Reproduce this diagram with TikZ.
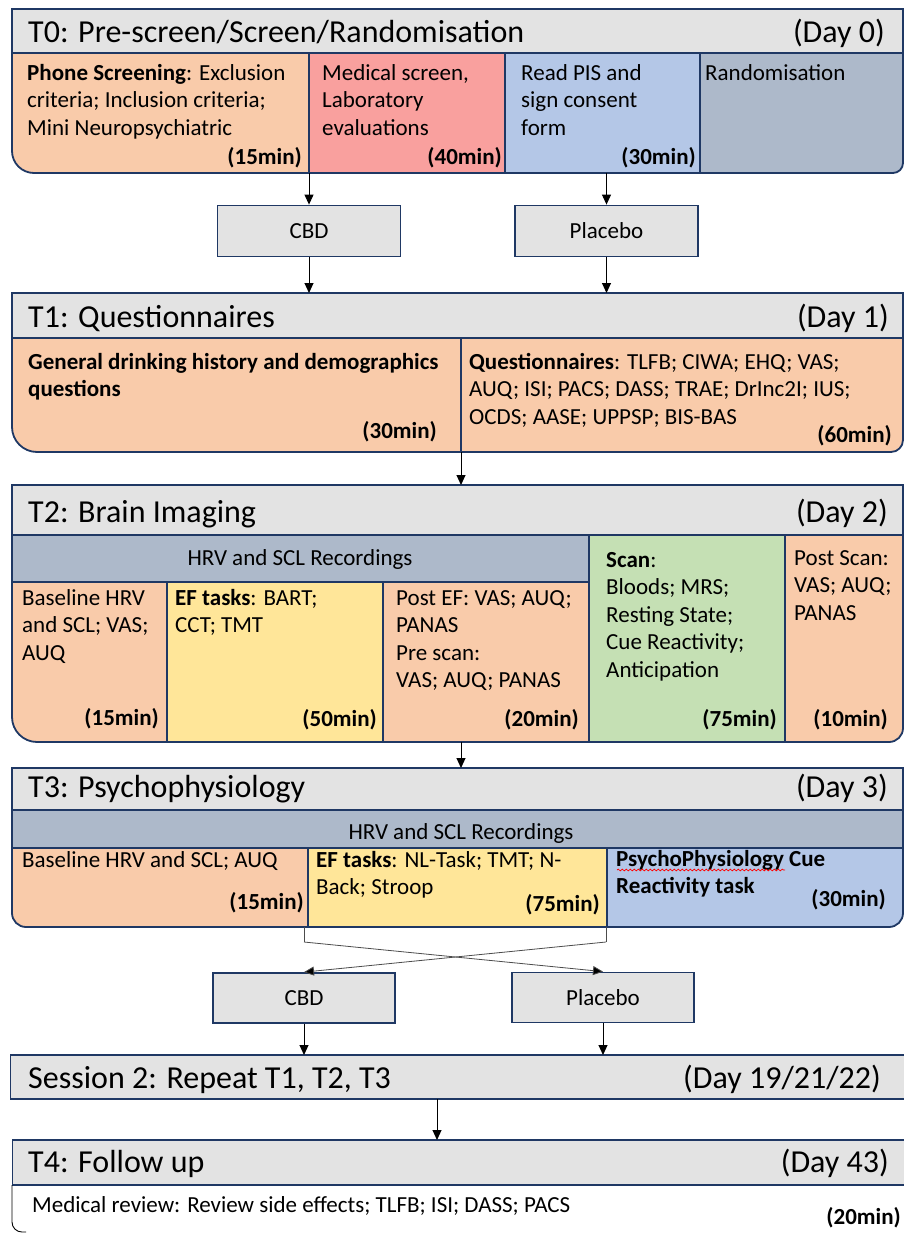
\documentclass[tikz,border=0pt]{standalone}
\usepackage{fontspec}
\setmainfont{Carlito}
\usetikzlibrary{arrows.meta,decorations.pathmorphing}
\definecolor{navy}{HTML}{1F3864}
\definecolor{hdr}{HTML}{E3E3E3}
\definecolor{peach}{HTML}{F9CBAA}
\definecolor{pinkred}{HTML}{F9A09E}
\definecolor{ltblue}{HTML}{B4C7E7}
\definecolor{slate}{HTML}{ADB9CA}
\definecolor{gold}{HTML}{FFE699}
\definecolor{sage}{HTML}{C5E0B4}
\newcommand{\bodyfont}{\fontsize{23}{27.5}\selectfont}
\newcommand{\hdrfont}{\fontsize{32}{38}\selectfont}
\begin{document}
\begin{tikzpicture}[x=1pt,y=-1pt,
  blk/.style={draw=navy,line width=1.8pt},
  cellnode/.style={anchor=north west,inner sep=0pt,outer sep=0pt,draw=none},
  divider/.style={draw=navy,line width=1.4pt},
  hline/.style={draw=navy,line width=1.8pt},
  txt/.style={anchor=north west,inner sep=0pt,align=left,font=\bodyfont},
  single/.style={anchor=base west,inner sep=0pt,font=\bodyfont},
  centred/.style={anchor=base,inner sep=0pt,font=\bodyfont},
  dur/.style={anchor=base east,inner sep=0pt,font=\bodyfont\bfseries},
  title/.style={anchor=base west,inner sep=0pt,font=\hdrfont},
  day/.style={anchor=base east,inner sep=0pt,font=\hdrfont},
  drug/.style={draw=navy,line width=1.8pt,fill=hdr,minimum width=183pt,minimum height=51pt,inner sep=0pt,font=\bodyfont},
  arr/.style={draw=black,line width=1pt,-{Triangle[width=9pt,length=10pt]}},
  xarr/.style={draw=black!70,line width=0.8pt,-{Triangle[width=9pt,length=10pt,fill=black]}},
  xline/.style={draw=black!70,line width=0.8pt},
]
\useasboundingbox (0,0) rectangle (904,1233);

% ---------------- T0 ----------------
\begin{scope}
\clip (12,9) -- (903,9) -- (903,163) arc[start angle=0,end angle=90,radius=10] -- (34,173) arc[start angle=90,end angle=180,radius=22] -- cycle;
\node[cellnode,fill=hdr,minimum width=891pt,minimum height=44pt] (t0h) at (12,9) {};
\node[cellnode,fill=peach,minimum width=297pt,minimum height=120pt] (t0a) at (12,53) {};
\node[cellnode,fill=pinkred,minimum width=196pt,minimum height=120pt] (t0b) at (309,53) {};
\node[cellnode,fill=ltblue,minimum width=195pt,minimum height=120pt] (t0c) at (505,53) {};
\node[cellnode,fill=slate,minimum width=203pt,minimum height=120pt] (t0d) at (700,53) {};
\end{scope}
\draw[blk] (12,9) -- (903,9) -- (903,163) arc[start angle=0,end angle=90,radius=10] -- (34,173) arc[start angle=90,end angle=180,radius=22] -- cycle;
\draw[hline] (t0h.south west) -- (t0h.south east);
\draw[divider] (t0a.north east) -- (t0a.south east);
\draw[divider] (t0b.north east) -- (t0b.south east);
\draw[divider] (t0c.north east) -- (t0c.south east);
\node[title] (t0title) at (28,43) {T0: Pre-screen/Screen/Randomisation};
\node[day] (t0day) at (885,43) {(Day 0)};
\node[txt] (t0atx) at (27,60.75) {\strut\textbf{Phone Screening}: Exclusion\\criteria; Inclusion criteria;\\Mini Neuropsychiatric};
\node[dur] (t0adur) at (302,165) {(15min)};
\node[txt] (t0btx) at (322,60.75) {\strut Medical screen,\\Laboratory\\evaluations};
\node[dur] (t0bdur) at (502,165) {(40min)};
\node[txt] (t0ctx) at (521,60.75) {\strut Read PIS and\\sign consent\\form};
\node[dur] (t0cdur) at (696,165) {(30min)};
\node[txt] (t0dtx) at (705,60.75) {\strut Randomisation};

% ---------------- drugs 1 ----------------
\node[drug] (cbd1) at (309,231) {CBD};
\node[drug] (pl1) at (606.5,231) {Placebo};

% ---------------- T1 ----------------
\begin{scope}
\clip (12,293) -- (903,293) -- (903,440) arc[start angle=0,end angle=90,radius=12] -- (37,452) arc[start angle=90,end angle=180,radius=25] -- cycle;
\node[cellnode,fill=hdr,minimum width=891pt,minimum height=45pt] (t1h) at (12,293) {};
\node[cellnode,fill=peach,minimum width=449pt,minimum height=114pt] (t1a) at (12,338) {};
\node[cellnode,fill=peach,minimum width=442pt,minimum height=114pt] (t1b) at (461,338) {};
\end{scope}
\draw[blk] (12,293) -- (903,293) -- (903,440) arc[start angle=0,end angle=90,radius=12] -- (37,452) arc[start angle=90,end angle=180,radius=25] -- cycle;
\draw[hline] (t1h.south west) -- (t1h.south east);
\draw[divider] (t1a.north east) -- (t1a.south east);
\node[title] (t1title) at (28,327) {T1: Questionnaires};
\node[day] (t1day) at (889,327) {(Day 1)};
\node[txt] (t1atx) at (28,349.75) {\strut\textbf{General drinking history and demographics}\\\textbf{questions}};
\node[dur] (t1adur) at (437,438) {(30min)};
\node[txt] (t1btx) at (469,349.75) {\strut\textbf{Questionnaires}: TLFB; CIWA; EHQ; VAS;\\AUQ; ISI; PACS; DASS; TRAE; DrInc2I; IUS;\\OCDS; AASE; UPPSP; BIS-BAS};
\node[dur] (t1bdur) at (892,442) {(60min)};

% ---------------- T2 ----------------
\begin{scope}
\clip (12,485) -- (903,485) -- (903,728) arc[start angle=0,end angle=90,radius=14] -- (37,742) arc[start angle=90,end angle=180,radius=25] -- cycle;
\node[cellnode,fill=hdr,minimum width=891pt,minimum height=50pt] (t2h) at (12,485) {};
\node[cellnode,fill=slate,minimum width=577pt,minimum height=47pt] (t2band) at (12,535) {};
\node[cellnode,fill=peach,minimum width=155pt,minimum height=160pt] (t2a) at (12,582) {};
\node[cellnode,fill=gold,minimum width=216pt,minimum height=160pt] (t2b) at (167,582) {};
\node[cellnode,fill=peach,minimum width=206pt,minimum height=160pt] (t2c) at (383,582) {};
\node[cellnode,fill=sage,minimum width=196pt,minimum height=207pt] (t2d) at (589,535) {};
\node[cellnode,fill=peach,minimum width=118pt,minimum height=207pt] (t2e) at (785,535) {};
\end{scope}
\draw[blk] (12,485) -- (903,485) -- (903,728) arc[start angle=0,end angle=90,radius=14] -- (37,742) arc[start angle=90,end angle=180,radius=25] -- cycle;
\draw[hline] (t2h.south west) -- (t2h.south east);
\draw[divider] (t2band.south west) -- (t2band.south east);
\draw[divider] (t2a.north east) -- (t2a.south east);
\draw[divider] (t2b.north east) -- (t2b.south east);
\draw[divider] (t2d.north west) -- (t2d.south west);
\draw[divider] (t2d.north east) -- (t2d.south east);
\node[title] (t2title) at (28,522) {T2: Brain Imaging};
\node[day] (t2day) at (888,522) {(Day 2)};
\node[centred] (t2bandtx) at (300,565) {HRV and SCL Recordings};
\node[txt] (t2atx) at (22,585.75) {\strut Baseline HRV\\and SCL; VAS;\\AUQ};
\node[dur] (t2adur) at (159,725) {(15min)};
\node[txt] (t2btx) at (175,585.75) {\strut\textbf{EF tasks}: BART;\\CCT; TMT};
\node[dur] (t2bdur) at (377,726) {(50min)};
\node[txt] (t2ctx) at (396,585.75) {\strut Post EF: VAS; AUQ;\\PANAS\\Pre scan:\\VAS; AUQ; PANAS};
\node[dur] (t2cdur) at (579,726) {(20min)};
\node[txt] (t2dtx) at (606,547.75) {\strut\textbf{Scan}:\\Bloods; MRS;\\Resting State;\\Cue Reactivity;\\Anticipation};
\node[dur] (t2ddur) at (777,726) {(75min)};
\node[txt] (t2etx) at (794,545.75) {\strut Post Scan:\\VAS; AUQ;\\PANAS};
\node[dur] (t2edur) at (888,726) {(10min)};

% ---------------- T3 ----------------
\begin{scope}
\clip (12,768) -- (903,768) -- (903,913) arc[start angle=0,end angle=90,radius=14] -- (26,927) arc[start angle=90,end angle=180,radius=14] -- cycle;
\node[cellnode,fill=hdr,minimum width=891pt,minimum height=42pt] (t3h) at (12,768) {};
\node[cellnode,fill=slate,minimum width=891pt,minimum height=38pt] (t3band) at (12,810) {};
\node[cellnode,fill=peach,minimum width=296pt,minimum height=79pt] (t3a) at (12,848) {};
\node[cellnode,fill=gold,minimum width=299pt,minimum height=79pt] (t3b) at (308,848) {};
\node[cellnode,fill=ltblue,minimum width=296pt,minimum height=79pt] (t3c) at (607,848) {};
\end{scope}
\draw[blk] (12,768) -- (903,768) -- (903,913) arc[start angle=0,end angle=90,radius=14] -- (26,927) arc[start angle=90,end angle=180,radius=14] -- cycle;
\draw[hline] (t3h.south west) -- (t3h.south east);
\draw[divider] (t3band.south west) -- (t3band.south east);
\draw[divider] (t3a.north east) -- (t3a.south east);
\draw[divider] (t3b.north east) -- (t3b.south east);
\node[title] (t3title) at (28,797) {T3: Psychophysiology};
\node[day] (t3day) at (888,797) {(Day 3)};
\node[centred] (t3bandtx) at (461,839) {HRV and SCL Recordings};
\node[txt] (t3atx) at (22,847.75) {\strut Baseline HRV and SCL; AUQ};
\node[dur] (t3adur) at (304,909) {(15min)};
\node[txt] (t3btx) at (316,847.75) {\strut\textbf{EF tasks}: NL-Task; TMT; N-\\Back; Stroop};
\node[dur] (t3bdur) at (600,911) {(75min)};
\node[txt] (t3ctx) at (616,846.75) {\strut\textbf{PsychoPhysiology Cue}\\\textbf{Reactivity task}};
\node[dur] (t3cdur) at (886,906) {(30min)};
\draw[red,line width=0.7pt,decorate,decoration={snake,amplitude=0.9pt,segment length=4pt}] (617,870) -- (785,870);

% ---------------- drugs 2 ----------------
\node[drug,minimum width=182pt,minimum height=50pt] (cbd2) at (304,998) {CBD};
\node[drug,minimum width=182pt,minimum height=50pt] (pl2) at (603,997.5) {Placebo};

% ---------------- Session 2 ----------------
\node[cellnode,fill=hdr,minimum width=896pt,minimum height=44pt] (s2) at (10,1055) {};
\draw[hline] (s2.north west) -- (s2.north east);
\draw[hline] (s2.south west) -- (s2.south east);
\draw[draw=navy,line width=0.8pt] (s2.north west) -- (s2.south west);
\node[title] (s2title) at (28,1088) {Session 2: Repeat T1, T2, T3};
\node[day] (s2day) at (881,1088) {(Day 19/21/22)};

% ---------------- T4 ----------------
\node[cellnode,fill=hdr,minimum width=894pt,minimum height=45pt] (t4h) at (12,1140) {};
\draw[hline] (t4h.north west) -- (t4h.north east);
\draw[hline] (t4h.south west) -- (t4h.south east);
\draw[draw=navy,line width=0.8pt] (t4h.north west) -- (t4h.south west);
\draw[draw=black,line width=0.9pt] (t4h.south west) -- (12,1222) arc[start angle=180,end angle=90,radius=10] -- (26,1232);
\node[title] (t4title) at (28,1172) {T4: Follow up};
\node[day] (t4day) at (889,1172) {(Day 43)};
\node[single] (t4tx) at (32,1212) {Medical review: Review side effects; TLFB; ISI; DASS; PACS};
\node[dur] (t4dur) at (901,1224) {(20min)};

% ---------------- connectors ----------------
\draw[arr] (t0a.south east) -- (cbd1.north);
\draw[arr] (pl1.north |- t0c.south) -- (pl1.north);
\draw[arr] (cbd1.south) -- (cbd1.south |- t1h.north);
\draw[arr] (pl1.south) -- (pl1.south |- t1h.north);
\draw[arr] (t1a.south east) -- (t1a.south east |- t2h.north);
\draw[arr] (t1a.south east |- t2c.south) -- (t1a.south east |- t3h.north);
\coordinate (kl) at (304,942);
\coordinate (kr) at (606,942);
\draw[xline] (kl |- t3b.south) -- (kl);
\draw[xline] (kr |- t3b.south) -- (kr);
\draw[xarr] (kl) -- (pl2.north);
\draw[xarr] (kr) -- (cbd2.north);
\draw[arr] (cbd2.south) -- (cbd2.south |- s2.north);
\draw[arr] (pl2.south) -- (pl2.south |- s2.north);
\coordinate (mid4) at (437,1120);
\draw[arr] (mid4 |- s2.south) -- (mid4 |- t4h.north);
\end{tikzpicture}
\end{document}
